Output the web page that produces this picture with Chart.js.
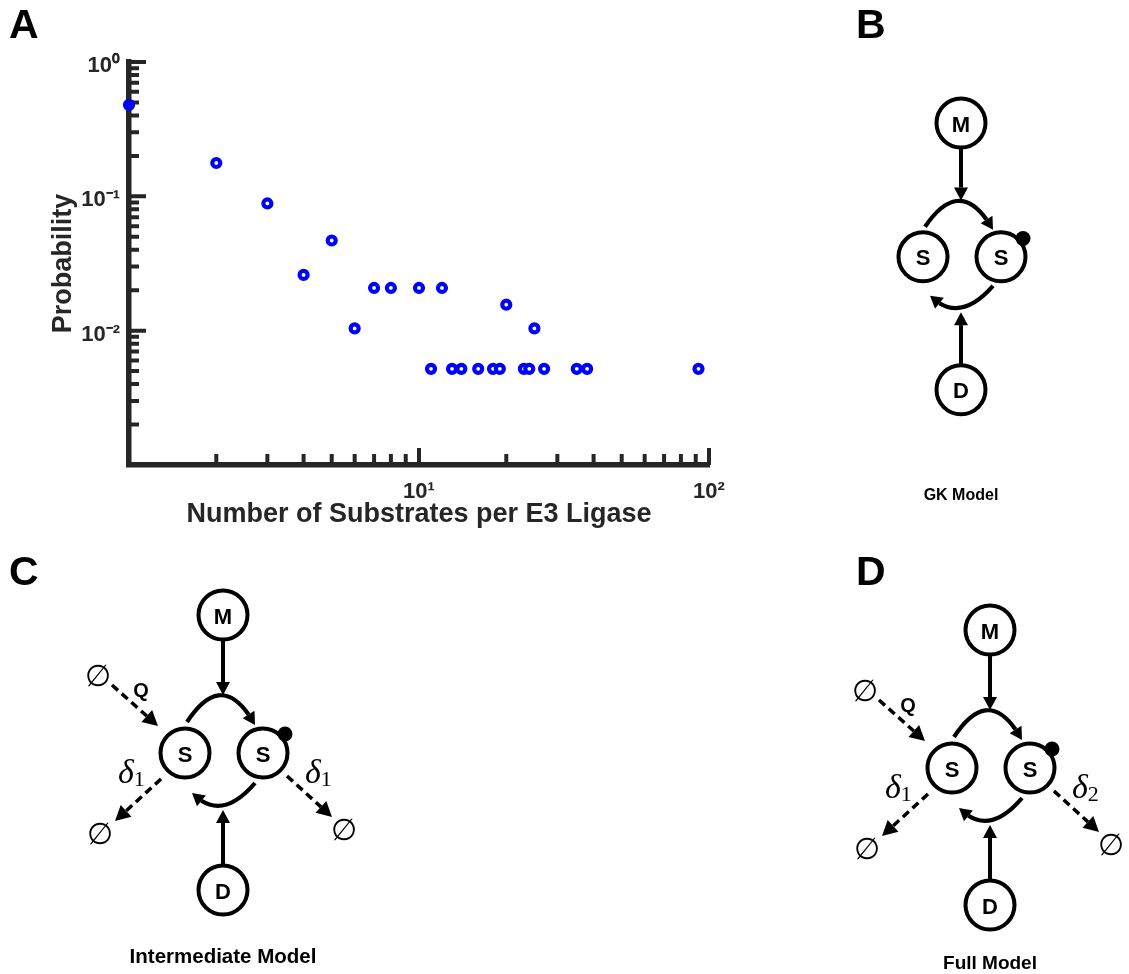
<!DOCTYPE html>
<html>
<head>
<meta charset="utf-8">
<script src="https://cdn.jsdelivr.net/npm/chart.js@4.4.1/dist/chart.umd.min.js"></script>
<style>
  html, body { margin: 0; padding: 0; background: #fff; }
  body { width: 1129px; height: 974px; position: relative; overflow: hidden;
         font-family: "Liberation Sans", Arial, Helvetica, sans-serif; }
  #chartBox { position: absolute; left: 0; top: 0; width: 760px; height: 560px; }
  .panel { position: absolute; font-weight: bold; font-size: 41px; line-height: 1; color: #000; }
  #diagrams { position: absolute; left: 0; top: 0; }
</style>
</head>
<body>
<div id="chartBox"><canvas id="myChart" width="760" height="560"></canvas></div>
<svg id="diagrams" width="1129" height="974" xmlns="http://www.w3.org/2000/svg"></svg>
<div class="panel" style="left:9px;top:4px">A</div>
<div class="panel" style="left:856px;top:4px">B</div>
<div class="panel" style="left:9px;top:551px">C</div>
<div class="panel" style="left:856px;top:551px">D</div>
<script>
// number of substrates per E3 ligase and the share of ligases with that count
const substrates = [1, 2, 3, 4, 5, 6, 7, 8, 10, 11, 12, 13, 14, 16, 18, 19, 20, 23, 24, 25, 27, 35, 38, 92];
const probability = [0.4792, 0.1771, 0.0885, 0.0260, 0.0469, 0.0104, 0.0208, 0.0208, 0.0208, 0.0052,
                     0.0208, 0.0052, 0.0052, 0.0052, 0.0052, 0.0052, 0.0156, 0.0052, 0.0052, 0.0104,
                     0.0052, 0.0052, 0.0052, 0.0052];

const xTickValues = [10, 100];
const xTickLabels = ['10\u00b9', '10\u00b2'];
const yTickValues = [1, 0.1, 0.01];
const yTickLabels = ['10\u2070', '10\u207b\u00b9', '10\u207b\u00b2'];
const xMinorTicks = [2, 3, 4, 5, 6, 7, 8, 9, 20, 30, 40, 50, 60, 70, 80, 90];
const yMinorTicks = [0.9, 0.8, 0.7, 0.6, 0.5, 0.4, 0.3, 0.2,
                     0.09, 0.08, 0.07, 0.06, 0.05, 0.04, 0.03, 0.02,
                     0.009, 0.008, 0.007, 0.006, 0.005, 0.004, 0.003, 0.002];

const axisColor = '#262626';
const fontFamily = '"Liberation Sans", Arial, Helvetica, sans-serif';

// matlab style ticks pointing into the plot
const innerTicks = {
  id: 'innerTicks',
  beforeDatasetsDraw(chart) {
    const { ctx, chartArea, scales: { x, y } } = chart;
    ctx.save();
    ctx.strokeStyle = axisColor;
    ctx.lineWidth = 4;
    ctx.beginPath();
    const xt = (v, len) => {
      const px = x.getPixelForValue(v);
      ctx.moveTo(px, chartArea.bottom);
      ctx.lineTo(px, chartArea.bottom - len);
    };
    const yt = (v, len) => {
      const py = y.getPixelForValue(v);
      ctx.moveTo(chartArea.left, py);
      ctx.lineTo(chartArea.left + len, py);
    };
    xTickValues.forEach(v => xt(v, 17));
    xMinorTicks.forEach(v => xt(v, 11));
    yTickValues.forEach(v => yt(v, 17));
    yMinorTicks.forEach(v => yt(v, 10));
    ctx.stroke();
    ctx.restore();
  }
};

const ctx = document.getElementById('myChart').getContext('2d');
new Chart(ctx, {
  type: 'scatter',
  data: {
    datasets: [{
      data: substrates.map((s, i) => ({ x: s, y: probability[i] })),
      pointStyle: 'circle',
      pointRadius: 4,
      pointBorderWidth: 4.2,
      pointBorderColor: '#0000ff',
      pointBackgroundColor: c => (c.dataIndex === 0 ? '#0000ff' : '#ffffff'),
      clip: false,
    }],
  },
  options: {
    responsive: false,
    animation: false,
    devicePixelRatio: 1,
    layout: { padding: { top: 62, right: 51, bottom: 0, left: 0 } },
    plugins: {
      legend: { display: false },
      tooltip: { enabled: false },
    },
    scales: {
      x: {
        type: 'logarithmic',
        position: 'bottom',
        min: 1,
        max: 100,
        afterFit: s => { s.height = 95; },
        afterBuildTicks: s => { s.ticks = xTickValues.map(v => ({ value: v })); },
        grid: { display: false },
        border: { display: true, color: axisColor, width: 5.5 },
        ticks: {
          autoSkip: false,
          maxRotation: 0,
          padding: 6,
          color: axisColor,
          font: { family: fontFamily, size: 22, weight: 'bold' },
          callback: (v, i) => xTickLabels[i],
        },
        title: {
          display: true,
          text: 'Number of Substrates per E3 Ligase',
          color: axisColor,
          font: { family: fontFamily, size: 27, weight: 'bold' },
          padding: { top: 0, bottom: 29 },
        },
      },
      y: {
        type: 'logarithmic',
        position: 'left',
        min: 0.001,
        max: 1,
        afterFit: s => { s.width = 129; },
        afterBuildTicks: s => { s.ticks = yTickValues.map(v => ({ value: v })); },
        grid: { display: false },
        border: { display: true, color: axisColor, width: 5.5 },
        ticks: {
          autoSkip: false,
          padding: 1,
          labelOffset: 4,
          color: axisColor,
          font: { family: fontFamily, size: 22, weight: 'bold' },
          callback: (v, i) => yTickLabels[i],
        },
        title: {
          display: true,
          text: 'Probability',
          color: axisColor,
          font: { family: fontFamily, size: 27, weight: 'bold' },
          padding: { top: 47, bottom: 0 },
        },
      },
    },
  },
  plugins: [innerTicks],
});

// model diagrams (B, C, D)
const svg = document.getElementById('diagrams');
const NS = 'http://www.w3.org/2000/svg';
function el(tag, attrs, text) {
  const e = document.createElementNS(NS, tag);
  for (const k in attrs) e.setAttribute(k, attrs[k]);
  if (text != null) e.textContent = text;
  svg.appendChild(e);
  return e;
}
function head(tip, base, hw) {
  const dx = tip[0] - base[0], dy = tip[1] - base[1];
  const l = Math.hypot(dx, dy), nx = -dy / l * hw, ny = dx / l * hw;
  el('polygon', { points: `${tip[0]},${tip[1]} ${base[0] + nx},${base[1] + ny} ${base[0] - nx},${base[1] - ny}`, fill: '#000' });
}
function straightArrow(a, tip, dashed) {
  const len = dashed ? 15 : 13, hw = dashed ? 8 : 7;
  const dx = tip[0] - a[0], dy = tip[1] - a[1], l = Math.hypot(dx, dy);
  const base = [tip[0] - dx / l * len, tip[1] - dy / l * len];
  const attrs = { x1: a[0], y1: a[1], x2: base[0], y2: base[1], stroke: '#000', 'stroke-width': dashed ? 3.5 : 4 };
  if (dashed) attrs['stroke-dasharray'] = '8 5';
  el('line', attrs);
  head(tip, base, hw);
}
function qAt(p0, c, p2, t) {
  const u = 1 - t;
  return [u * u * p0[0] + 2 * u * t * c[0] + t * t * p2[0], u * u * p0[1] + 2 * u * t * c[1] + t * t * p2[1]];
}
function curvedArrow(p0, c, p2) {
  let t = 1, b = p2;
  while (t > 0 && Math.hypot(p2[0] - b[0], p2[1] - b[1]) < 12) { t -= 0.005; b = qAt(p0, c, p2, t); }
  const c1 = [p0[0] + (c[0] - p0[0]) * t, p0[1] + (c[1] - p0[1]) * t];
  el('path', { d: `M${p0[0]},${p0[1]} Q${c1[0]},${c1[1]} ${b[0]},${b[1]}`, fill: 'none', stroke: '#000', 'stroke-width': 4.2 });
  head(p2, b, 7);
}
function node(x, y, label) {
  el('circle', { cx: x, cy: y, r: 24.5, fill: '#fff', stroke: '#000', 'stroke-width': 4 });
  el('text', { x, y: y + 1, 'text-anchor': 'middle', 'dominant-baseline': 'central',
    'font-family': fontFamily, 'font-weight': 'bold', 'font-size': 22, fill: '#000' }, label);
}
function emptySet(x, y) {
  el('text', { x, y, 'text-anchor': 'middle', 'dominant-baseline': 'central',
    'font-family': '"Liberation Serif", "DejaVu Serif", serif', 'font-size': 30, fill: '#000' }, '\u2205');
}
function delta(x, y, sub) {
  const t = el('text', { x, y, 'font-family': '"Liberation Serif", "Times New Roman", serif',
    'font-style': 'italic', 'font-size': 34, fill: '#000' }, '\u03b4');
  const s = document.createElementNS(NS, 'tspan');
  s.setAttribute('font-style', 'normal');
  s.setAttribute('font-size', 22);
  s.setAttribute('dy', 3);
  s.textContent = sub;
  t.appendChild(s);
}

function drawModel(ox, oy, sy, decay, title, titleY, titleSize) {
  const P = (x, y) => [ox + x, oy + y * sy];
  // production, S <-> S* cycle, degradation arms
  straightArrow(P(0, 26), P(0, 80));
  curvedArrow(P(-36, 107), P(0, 52), P(32, 110));
  curvedArrow(P(32, 168), P(-2, 208), P(-31, 178));
  straightArrow(P(0, 250), P(0, 195));
  node(...P(0, 0), 'M');
  node(...P(-38, 138), 'S');
  node(...P(40, 138), 'S');
  node(...P(0, 275), 'D');
  const dot = P(62, 119);
  el('circle', { cx: dot[0], cy: dot[1], r: 7.5, fill: '#000' });
  if (decay) {
    straightArrow(P(-111, 70), P(-65, 111), true);
    straightArrow(P(-62, 164), P(-108, 206), true);
    straightArrow(P(64, 161), P(109, 202), true);
    emptySet(...P(-125, 60));
    emptySet(...P(-123, 218));
    emptySet(...P(121, 214));
    el('text', { x: ox - 82, y: oy + 75, 'text-anchor': 'middle', 'dominant-baseline': 'central',
      'font-family': fontFamily, 'font-weight': 'bold', 'font-size': 20, fill: '#000' }, 'Q');
    delta(ox - 105, oy + 168, decay[0]);
    delta(ox + 82, oy + 168, decay[1]);
  }
  el('text', { x: ox, y: titleY, 'text-anchor': 'middle', 'dominant-baseline': 'central',
    'font-family': fontFamily, 'font-weight': 'bold', 'font-size': titleSize, fill: '#000' }, title);
}

drawModel(961, 123, 0.97, null, 'GK Model', 494, 16);
drawModel(223, 615, 1, ['1', '1'], 'Intermediate Model', 955, 20.5);
drawModel(990, 630, 1, ['1', '2'], 'Full Model', 962, 19);
</script>
</body>
</html>
